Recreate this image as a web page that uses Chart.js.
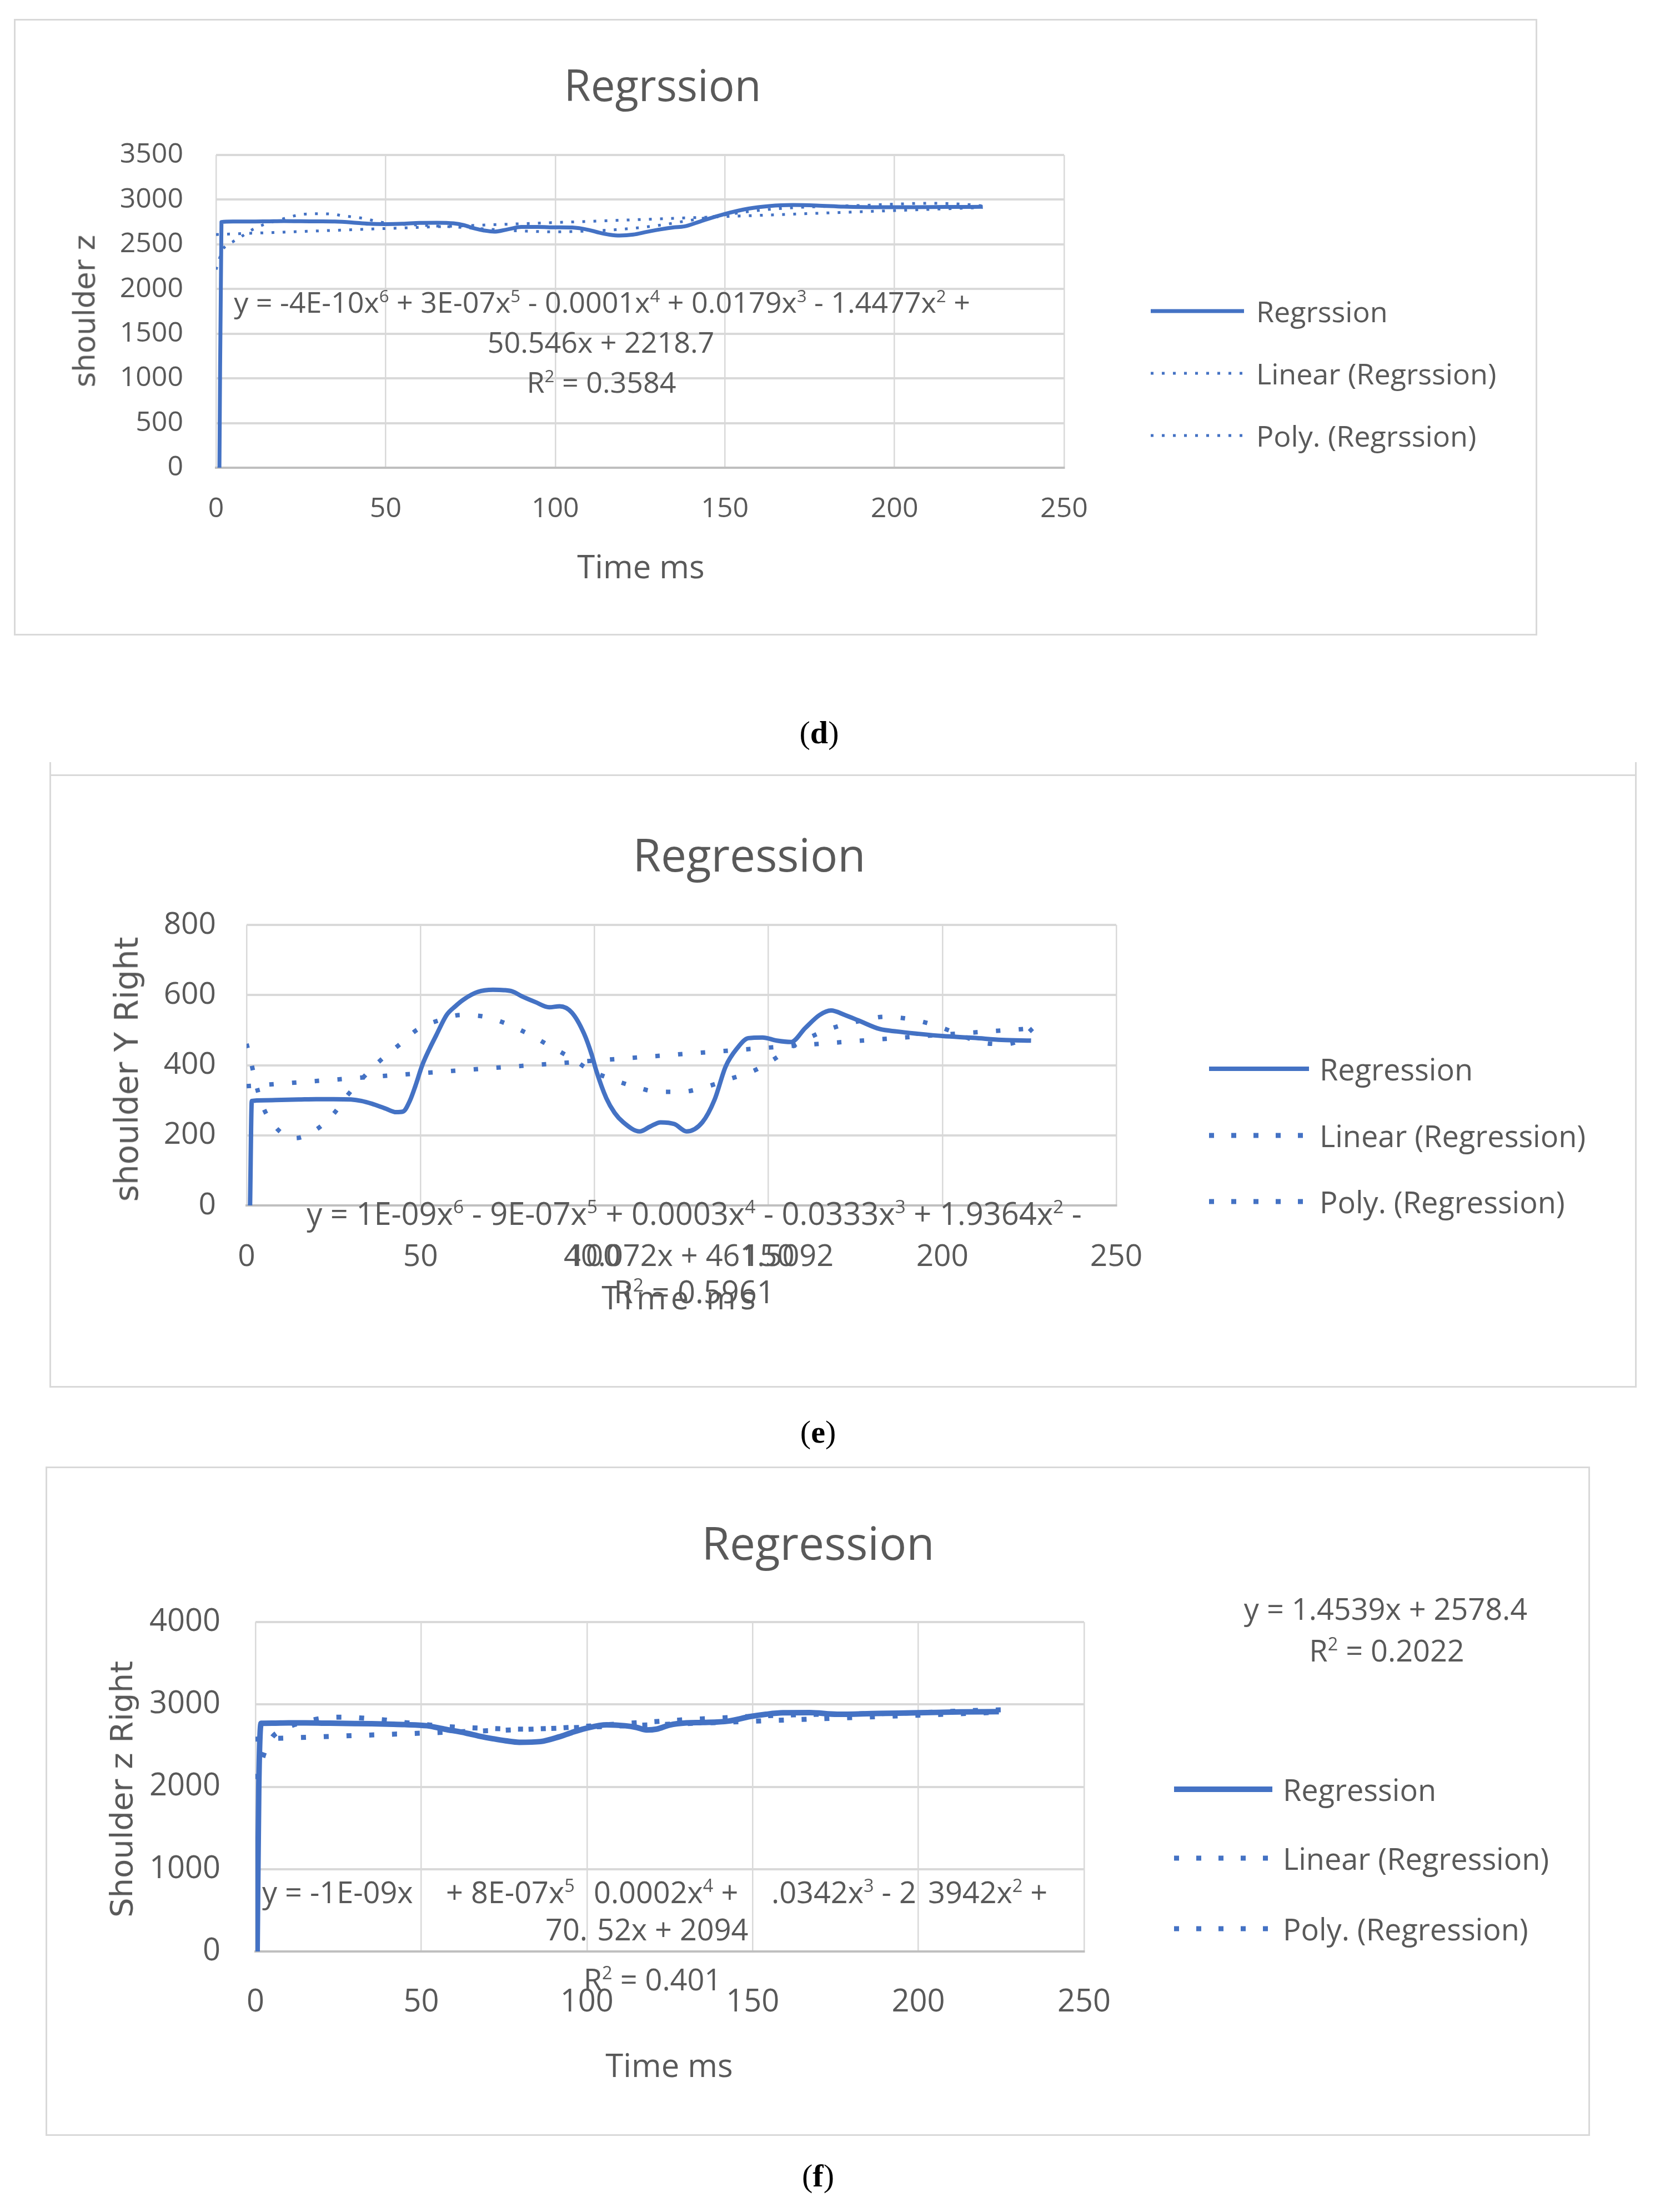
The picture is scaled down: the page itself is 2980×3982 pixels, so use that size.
<!DOCTYPE html>
<html><head><meta charset="utf-8">
<script src="https://cdn.jsdelivr.net/npm/chart.js@4.4.0/dist/chart.umd.min.js"></script>
<style>
html,body{margin:0;padding:0;background:#fff;}
body{width:2980px;height:3982px;position:relative;overflow:hidden;font-family:'Open Sans',sans-serif;color:#595959;}
.box{position:absolute;border:3px solid #D9D9D9;box-sizing:border-box;}
canvas{position:absolute;}
.t{position:absolute;white-space:nowrap;line-height:1;transform:translate(-50%,-50%);}
.l{position:absolute;white-space:nowrap;line-height:1;transform:translate(0,-50%);}
sup{font-size:0.6em;vertical-align:0.62em;line-height:0;}
.cap{font-family:'Liberation Serif','DejaVu Serif',serif;color:#000;}
.yt{font-family:'DejaVu Sans',sans-serif;}
</style></head><body>
<script>
// ---------- DATA ----------
// (d) shoulder z
const dTime = [1, 1.6, 5, 10, 15, 20, 25, 30, 35, 40, 45, 50, 55, 60, 65, 70, 73, 76, 79, 82, 86, 90, 95, 100, 105, 110, 113, 116, 119, 123, 127, 131, 135, 138, 143, 150, 157, 163, 170, 177, 185, 195, 205, 215, 226];
const dValue = [0, 2750, 2755, 2755, 2757, 2760, 2758, 2757, 2755, 2745, 2730, 2726, 2730, 2740, 2742, 2735, 2715, 2680, 2655, 2642, 2668, 2695, 2695, 2690, 2688, 2660, 2630, 2608, 2598, 2609, 2640, 2668, 2690, 2700, 2760, 2840, 2900, 2928, 2940, 2935, 2922, 2915, 2915, 2918, 2920];
const dLinTime = [0, 50, 100, 150, 200, 226];
const dLinValue = [2610, 2677, 2744, 2811, 2878, 2912];
const dPolyTime = [0, 2, 5, 8, 10, 13, 19, 22, 25, 30, 34, 37, 40, 44, 47, 50, 60, 70, 80, 90, 100, 110, 120, 130, 140, 150, 160, 170, 180, 190, 200, 210, 220, 226];
const dPolyValue = [2218, 2440, 2530, 2600, 2650, 2705, 2777, 2808, 2835, 2842, 2840, 2822, 2808, 2787, 2760, 2740, 2715, 2695, 2670, 2650, 2640, 2650, 2670, 2710, 2770, 2830, 2880, 2910, 2925, 2935, 2950, 2960, 2950, 2930];

// (e) shoulder Y Right
const eTime = [1, 1.5, 5, 10, 15, 20, 25, 30, 33, 36, 40, 43, 45, 47, 48.5, 50.5, 52.5, 54.5, 57.5, 60, 62.5, 66.5, 70.8, 74, 76.5, 79, 83, 87, 90, 93.5, 97, 99.3, 100.5, 103.4, 105.8, 108.3, 113, 116, 119, 123, 126.5, 131, 134.5, 137.7, 141, 144.2, 148.3, 152.4, 156.5, 160.6, 164.7, 168, 172, 176, 182, 187, 192.5, 200, 209, 217, 225.5];
const eValue = [0, 298, 300, 301, 302, 303, 303, 302, 298, 290, 276, 266, 268, 300, 340, 400, 445, 485, 543, 568, 588, 609, 615, 614, 610, 597, 580, 565, 568, 550, 490, 427, 385, 306, 264, 237, 211, 225, 237, 232, 211, 237, 301, 396, 448, 477, 479, 470, 466, 506, 543, 556, 543, 527, 503, 496, 490, 483, 478, 472, 470];
const eLinTime = [0, 50, 100, 150, 200, 226];
const eLinValue = [340, 377, 413, 450, 487, 505];
const ePolyTime = [0, 1, 4, 8, 14, 20, 25, 29, 34, 38.5, 44, 49, 55, 61.7, 68.6, 75, 81.2, 87.3, 93.5, 98.8, 105.3, 111.8, 118.4, 125, 132, 139, 146, 151.6, 157.4, 163.8, 170, 176.8, 183.4, 190.3, 196.8, 203, 208, 213, 218, 222, 226];
const ePolyValue = [461, 420, 300, 227, 192, 216, 261, 314, 370, 414, 459, 501, 527, 543, 538, 517, 488, 454, 419, 385, 359, 338, 324, 324, 338, 361, 385, 417, 456, 488, 511, 527, 538, 532, 517, 495, 475, 462, 460, 470, 505];

// (f) Shoulder z Right
const fTime = [0.5, 1, 1.7, 5, 10, 15, 20, 25, 30, 35, 40, 45, 51.7, 57, 63.6, 67.5, 71.7, 75.5, 79.6, 86, 91.6, 95.5, 99.5, 106, 111.5, 115, 118, 121, 125, 130, 135, 142.6, 149.3, 154, 159.1, 167.3, 175.5, 187.8, 200, 212.4, 224.3];
const fValue = [0, 2000, 2770, 2772, 2775, 2775, 2773, 2770, 2768, 2765, 2760, 2755, 2741, 2700, 2651, 2615, 2583, 2558, 2540, 2549, 2606, 2660, 2707, 2752, 2741, 2720, 2690, 2700, 2750, 2775, 2780, 2797, 2853, 2880, 2898, 2900, 2880, 2891, 2898, 2909, 2912];
const fLinTime = [0, 50, 100, 150, 200, 226];
const fLinValue = [2578, 2651, 2724, 2796, 2869, 2907];
const fPolyTime = [0, 1, 3, 5, 7, 10, 15, 20, 25, 30, 35, 40, 45, 50, 60, 70, 80, 90, 100, 110, 120, 130, 140, 150, 160, 170, 180, 190, 200, 210, 220, 226];
const fPolyValue = [2094, 2200, 2450, 2600, 2670, 2730, 2790, 2830, 2845, 2840, 2825, 2808, 2780, 2760, 2725, 2710, 2700, 2710, 2735, 2765, 2790, 2815, 2835, 2855, 2870, 2880, 2885, 2890, 2900, 2915, 2930, 2935];

const xTicks = [0, 50, 100, 150, 200, 250];

// ---------- HELPERS ----------
const BLUE = '#4472C4';
function pts(t, v) { return t.map((x, i) => ({x: x, y: v[i]})); }
function el(cls, html, x, y, size, extra) {
  const d = document.createElement('div');
  d.className = cls; d.innerHTML = html;
  d.style.left = x + 'px'; d.style.top = y + 'px'; d.style.fontSize = size + 'px';
  if (extra) Object.assign(d.style, extra);
  document.body.appendChild(d); return d;
}
function rect(x, y, w, h) {
  const d = document.createElement('div'); d.className = 'box';
  Object.assign(d.style, {left: x + 'px', top: y + 'px', width: w + 'px', height: h + 'px'});
  document.body.appendChild(d);
}
function sample(x1, x2, y, w, dash) {
  const ns = 'http://www.w3.org/2000/svg';
  const s = document.createElementNS(ns, 'svg');
  s.setAttribute('width', x2 - x1); s.setAttribute('height', w * 2);
  s.style.position = 'absolute'; s.style.left = x1 + 'px'; s.style.top = (y - w) + 'px';
  const l = document.createElementNS(ns, 'line');
  l.setAttribute('x1', 0); l.setAttribute('x2', x2 - x1); l.setAttribute('y1', w); l.setAttribute('y2', w);
  l.setAttribute('stroke', BLUE); l.setAttribute('stroke-width', w);
  if (dash) l.setAttribute('stroke-dasharray', dash.join(' '));
  s.appendChild(l); document.body.appendChild(s);
}
function makeChart(c) {
  rect(c.box.x, c.box.y, c.box.w, c.box.h);
  const cv = document.createElement('canvas');
  cv.width = c.box.w; cv.height = c.box.h;
  Object.assign(cv.style, {left: c.box.x + 'px', top: c.box.y + 'px', width: c.box.w + 'px', height: c.box.h + 'px'});
  document.body.appendChild(cv);
  const YW = 200, XH = 150;
  const pad = {left: c.area.l - c.box.x - YW, right: c.box.x + c.box.w - c.area.r,
               top: c.area.t - c.box.y, bottom: c.box.y + c.box.h - c.area.b - XH};
  new Chart(cv, {
    type: 'line',
    data: {datasets: [
      {label: c.names[1], data: pts(c.lin[0], c.lin[1]), borderColor: BLUE, borderWidth: c.dw, borderDash: c.dash,
       borderCapStyle: 'butt', pointRadius: 0, fill: false, cubicInterpolationMode: 'monotone', order: 1},
      {label: c.names[2], data: pts(c.poly[0], c.poly[1]), borderColor: BLUE, borderWidth: c.dw, borderDash: c.dash,
       borderCapStyle: 'butt', pointRadius: 0, fill: false, cubicInterpolationMode: 'monotone', order: 2},
      {label: c.names[0], data: pts(c.main[0], c.main[1]), borderColor: BLUE, borderWidth: c.mw,
       pointRadius: 0, fill: false, cubicInterpolationMode: 'monotone', borderJoinStyle: 'round', order: 3}
    ]},
    options: {
      responsive: false, animation: false, devicePixelRatio: 1,
      layout: {padding: pad},
      plugins: {legend: {display: false}, title: {display: false}, tooltip: {enabled: false}},
      scales: {
        x: {type: 'linear', min: 0, max: 250, afterFit: s => { s.height = XH; },
            afterBuildTicks: s => { s.ticks = xTicks.map(v => ({value: v})); },
            ticks: {padding: c.xpad, color: '#595959', maxRotation: 0, font: {family: 'Open Sans', size: c.tick},
                    callback: v => String(v)},
            grid: {color: '#D9D9D9', lineWidth: 2.5, drawTicks: false},
            border: {display: true, color: '#BFBFBF', width: 4}},
        y: {min: 0, max: c.ymax, afterFit: s => { s.width = YW; },
            ticks: {stepSize: c.ystep, padding: c.ypad, color: '#595959', font: {family: 'Open Sans', size: c.tick},
                    callback: v => String(v)},
            grid: {color: '#D9D9D9', lineWidth: 4, drawTicks: false},
            border: {display: false}}
      }
    }
  });
}

// ---------- CHART (d) ----------
makeChart({box: {x: 25, y: 34, w: 2743, h: 1110}, area: {l: 389, r: 1916, t: 279, b: 842},
  ymax: 3500, ystep: 500, tick: 50, xpad: 45, ypad: 59, mw: 7, dw: 5, dash: [5, 15],
  names: ['Regrssion', 'Linear (Regrssion)', 'Poly. (Regrssion)'],
  main: [dTime, dValue], lin: [dLinTime, dLinValue], poly: [dPolyTime, dPolyValue]});
el('t', 'Regrssion', 1193, 152, 78);
el('t yt', 'shoulder z', 152, 560, 53, {transform: 'translate(-50%,-50%) rotate(-90deg)'});
el('t', 'Time ms', 1154, 1019, 58);
el('t', 'y = -4E-10x<sup>6</sup> + 3E-07x<sup>5</sup> - 0.0001x<sup>4</sup> + 0.0179x<sup>3</sup> - 1.4477x<sup>2</sup> +', 1084, 543, 52);
el('t', '50.546x + 2218.7', 1082, 615, 52);
el('t', 'R<sup>2</sup> = 0.3584', 1083, 687, 52);
sample(2072, 2240, 560, 7, null);
sample(2072, 2240, 672, 5, [5, 15]);
sample(2072, 2240, 784, 5, [5, 15]);
el('l', 'Regrssion', 2262, 560, 52);
el('l', 'Linear (Regrssion)', 2262, 672, 52);
el('l', 'Poly. (Regrssion)', 2262, 784, 52);
el('t cap', '(<b>d</b>)', 1475, 1319, 58);

// ---------- CHART (e) ----------
makeChart({box: {x: 89, y: 1394, w: 2858, h: 1104}, area: {l: 444, r: 2010, t: 1665, b: 2170},
  ymax: 800, ystep: 200, tick: 55, xpad: 60, ypad: 55, mw: 8, dw: 8, dash: [8, 33],
  names: ['Regression', 'Linear (Regression)', 'Poly. (Regression)'],
  main: [eTime, eValue], lin: [eLinTime, eLinValue], poly: [ePolyTime, ePolyValue]});
(function () {
  const s = (x, y, h) => { const d = document.createElement('div');
    Object.assign(d.style, {position: 'absolute', left: x + 'px', top: y + 'px', width: '3px', height: h + 'px', background: '#D9D9D9'});
    document.body.appendChild(d); };
  s(89, 1372, 24); s(2944, 1372, 24);
})();
el('t', 'Regression', 1349, 1537, 82);
el('t yt', 'shoulder Y Right', 228, 1925, 58, {transform: 'translate(-50%,-50%) rotate(-90deg)'});
el('t', 'Time ms', 1226, 2335, 58, {letterSpacing: '8px'});
el('t', 'y = 1E-09x<sup>6</sup> - 9E-07x<sup>5</sup> + 0.0003x<sup>4</sup> - 0.0333x<sup>3</sup> + 1.9364x<sup>2</sup> -', 1250, 2183, 56);
el('t', '40.072x + 461.5092', 1258, 2258, 54);
el('t', 'R<sup>2</sup> = 0.5961', 1250, 2324, 56);
sample(2177, 2357, 1924, 8, null);
sample(2177, 2357, 2044, 9, [9, 31]);
sample(2177, 2357, 2163, 9, [9, 31]);
el('l', 'Regression', 2376, 1924, 54);
el('l', 'Linear (Regression)', 2376, 2044, 54);
el('l', 'Poly. (Regression)', 2376, 2163, 54);
el('t cap', '(<b>e</b>)', 1473, 2578, 58);

// ---------- CHART (f) ----------
makeChart({box: {x: 82, y: 2640, w: 2781, h: 1205}, area: {l: 460, r: 1952, t: 2920, b: 3513},
  ymax: 4000, ystep: 1000, tick: 56, xpad: 58, ypad: 63, mw: 10, dw: 9, dash: [9, 32],
  names: ['Regression', 'Linear (Regression)', 'Poly. (Regression)'],
  main: [fTime, fValue], lin: [fLinTime, fLinValue], poly: [fPolyTime, fPolyValue]});
el('t', 'Regression', 1473, 2776, 82);
el('t', 'y = 1.4539x + 2578.4', 2495, 2895, 54);
el('t', 'R<sup>2</sup> = 0.2022', 2497, 2970, 54);
el('t yt', 'Shoulder z Right', 219, 3221, 56, {transform: 'translate(-50%,-50%) rotate(-90deg)'});
el('t', 'Time ms', 1205, 3717, 58);
el('l', 'y = -1E-09x', 472, 3405, 54);
el('l', '+ 8E-07x<sup>5</sup>', 803, 3405, 54);
el('l', '0.0002x<sup>4</sup> +', 1069, 3405, 54);
el('l', '.0342x<sup>3</sup> - 2', 1389, 3405, 54);
el('l', '3942x<sup>2</sup> +', 1671, 3405, 54);
el('l', '70.', 982, 3472, 54);
el('l', '52x + 2094', 1075, 3472, 54);
el('t', 'R<sup>2</sup> = 0.401', 1175, 3562, 54);
sample(2114, 2291, 3221, 10, null);
sample(2114, 2291, 3345, 9, [9, 31]);
sample(2114, 2291, 3472, 9, [9, 31]);
el('l', 'Regression', 2310, 3221, 54);
el('l', 'Linear (Regression)', 2310, 3345, 54);
el('l', 'Poly. (Regression)', 2310, 3472, 54);
el('t cap', '(<b>f</b>)', 1473, 3917, 58);
</script>
</body></html>
